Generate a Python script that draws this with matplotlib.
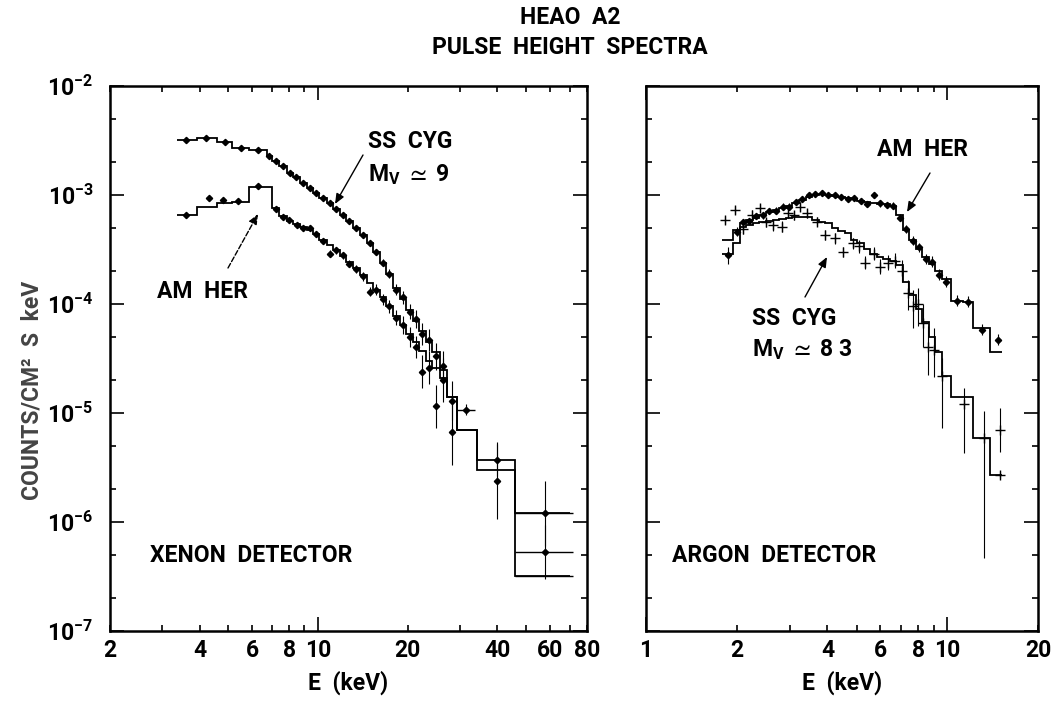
import numpy as np
import matplotlib
matplotlib.use('Agg')
import matplotlib.pyplot as plt
from matplotlib.ticker import LogLocator, FuncFormatter, NullFormatter, LogFormatterMathtext, FixedLocator

plt.rcParams['font.family'] = ['Roboto', 'DejaVu Sans']
plt.rcParams['font.weight'] = 'bold'
plt.rcParams['axes.labelweight'] = 'bold'
plt.rcParams['mathtext.fontset'] = 'custom'
plt.rcParams['mathtext.rm'] = 'Roboto:bold'
plt.rcParams['mathtext.it'] = 'Roboto:bold'
plt.rcParams['mathtext.bf'] = 'Roboto:bold'
plt.rcParams['mathtext.fallback'] = 'stixsans'

# ---------------- DATA ----------------
# Xenon detector (left panel): common bin edges (keV)
xe_edges = [3.36, 3.92, 4.57, 5.13, 5.85, 6.73, 7.0, 7.4, 7.85, 8.25, 8.68, 9.15, 9.6,
            10.1, 10.7, 11.25, 11.8, 12.4, 13.1, 13.8, 14.6, 15.3, 16.1, 16.9, 17.8,
            18.8, 19.8, 20.9, 21.9, 23.0, 24.2, 25.6, 27.0, 29.2, 34.3, 45.8, 70.0]
xe_sscyg_model = [3.2e-3, 3.3e-3, 3.05e-3, 2.7e-3, 2.6e-3, 2.3e-3, 2.05e-3, 1.85e-3, 1.6e-3,
                  1.45e-3, 1.3e-3, 1.17e-3, 1.05e-3, 9.4e-4, 8.4e-4, 7.5e-4, 6.6e-4, 5.8e-4,
                  5.0e-4, 4.3e-4, 3.6e-4, 3.0e-4, 2.4e-4, 1.9e-4, 1.4e-4, 1.1e-4, 8.8e-5,
                  7.0e-5, 5.6e-5, 4.5e-5, 3.6e-5, 2.5e-5, 1.4e-5, 7.0e-6, 3.7e-6, 1.2e-6]
xe_amher_model = [6.6e-4, 7.8e-4, 8.5e-4, 8.7e-4, 1.19e-3, 1.18e-3, 7.6e-4, 6.4e-4, 5.8e-4,
                  5.4e-4, 5.1e-4, 4.8e-4, 4.4e-4, 3.9e-4, 3.5e-4, 3.1e-4, 2.75e-4, 2.45e-4,
                  2.15e-4, 1.85e-4, 1.55e-4, 1.35e-4, 1.15e-4, 9.5e-5, 7.8e-5, 6.4e-5, 5.3e-5,
                  4.5e-5, 3.7e-5, 3.0e-5, 2.6e-5, 2.1e-5, 1.4e-5, 7.0e-6, 3.0e-6, 3.2e-7]

xe_sscyg_pt_E = [3.6, 4.2, 4.85, 5.5, 6.3, 6.85, 7.2, 7.6, 8.05, 8.45, 8.9, 9.4, 9.85, 10.4,
                 11.0, 11.5, 12.1, 12.7, 13.4, 14.2, 14.9, 15.7, 16.5, 17.3, 18.3, 19.3,
                 20.4, 21.4, 22.4, 23.6, 24.9, 26.3, 28.1, 31.5, 40.0, 58.0]
xe_sscyg_pt_val = [3.2e-3, 3.3e-3, 3.05e-3, 2.7e-3, 2.6e-3, 2.3e-3, 2.05e-3, 1.85e-3, 1.6e-3,
                   1.45e-3, 1.3e-3, 1.17e-3, 1.05e-3, 9.4e-4, 8.4e-4, 7.5e-4, 6.6e-4, 5.8e-4,
                   5.0e-4, 4.3e-4, 3.6e-4, 3.0e-4, 2.4e-4, 1.9e-4, 1.35e-4, 1.15e-4, 8.5e-5,
                   7.3e-5, 5.3e-5, 4.7e-5, 3.3e-5, 2.7e-5, 1.3e-5, 1.07e-5, 3.7e-6, 1.2e-6]
xe_sscyg_pt_err = [0.01, 0.01, 0.01, 0.01, 0.01, 0.01, 0.01, 0.01, 0.01, 0.01, 0.015, 0.015,
                   0.015, 0.015, 0.02, 0.02, 0.02, 0.02, 0.02, 0.025, 0.025, 0.03, 0.03, 0.04,
                   0.05, 0.06, 0.07, 0.08, 0.1, 0.1, 0.12, 0.14, 0.18, 0.05, 0.15, 0.3]

xe_amher_pt_E = [3.6, 4.3, 4.8, 5.4, 6.3, 7.2, 7.6, 8.0, 8.5, 8.9, 9.4, 9.85, 10.4, 11.0,
                 11.5, 12.1, 12.7, 13.4, 14.2, 14.9, 15.7, 16.5, 17.3, 18.3, 19.3, 20.4,
                 21.4, 22.4, 23.6, 24.9, 26.3, 28.1, 40.0, 58.0]
xe_amher_pt_val = [6.5e-4, 9.3e-4, 9.0e-4, 8.8e-4, 1.2e-3, 7.5e-4, 6.3e-4, 5.9e-4, 5.3e-4,
                   5.0e-4, 5.0e-4, 4.4e-4, 3.8e-4, 2.9e-4, 3.1e-4, 2.8e-4, 2.35e-4, 2.1e-4,
                   1.8e-4, 1.3e-4, 1.35e-4, 1.1e-4, 9.5e-5, 7.5e-5, 6.4e-5, 5.0e-5, 4.0e-5,
                   2.4e-5, 2.6e-5, 1.15e-5, 2.0e-5, 6.7e-6, 2.4e-6, 5.3e-7]
xe_amher_pt_err = [0.02, 0.02, 0.02, 0.02, 0.02, 0.02, 0.02, 0.02, 0.02, 0.025, 0.025, 0.025,
                   0.03, 0.03, 0.03, 0.03, 0.035, 0.035, 0.04, 0.04, 0.05, 0.05, 0.06, 0.07,
                   0.08, 0.09, 0.1, 0.15, 0.15, 0.2, 0.2, 0.3, 0.35, 0.25]

# Argon detector (right panel)
ar_edges = [1.79, 1.95, 2.05, 2.15, 2.26, 2.38, 2.5, 2.63, 2.77, 2.91, 3.06, 3.22, 3.39,
            3.56, 3.74, 3.93, 4.13, 4.34, 4.56, 4.79, 5.03, 5.29, 5.56, 5.84, 6.14, 6.45,
            6.78, 7.12, 7.48, 7.86, 8.26, 8.68, 9.12, 9.58, 10.3, 11.3, 12.2, 13.9, 15.2]
ar_amher_model = [3.9e-4, 4.8e-4, 5.5e-4, 5.9e-4, 6.2e-4, 6.6e-4, 7.0e-4, 7.3e-4, 7.6e-4,
                  7.9e-4, 8.4e-4, 9.0e-4, 9.6e-4, 1.0e-3, 1.02e-3, 1.0e-3, 9.8e-4, 9.6e-4,
                  9.4e-4, 9.2e-4, 8.9e-4, 8.6e-4, 8.4e-4, 8.3e-4, 8.2e-4, 8.0e-4, 6.5e-4,
                  4.8e-4, 3.9e-4, 3.2e-4, 2.7e-4, 2.35e-4, 2.0e-4, 1.7e-4, 1.07e-4, 1.05e-4,
                  6.0e-5, 3.6e-5]
ar_sscyg_model = [2.9e-4, 3.6e-4, 5.1e-4, 5.3e-4, 5.5e-4, 5.6e-4, 5.8e-4, 5.9e-4, 6.0e-4,
                  6.1e-4, 6.3e-4, 6.3e-4, 6.3e-4, 5.9e-4, 5.7e-4, 5.5e-4, 5.0e-4, 4.7e-4,
                  4.5e-4, 3.9e-4, 3.6e-4, 3.2e-4, 2.9e-4, 2.7e-4, 2.6e-4, 2.5e-4, 2.3e-4,
                  1.6e-4, 1.2e-4, 9.0e-5, 6.8e-5, 5.0e-5, 3.6e-5, 2.2e-5, 1.4e-5, 1.4e-5,
                  5.9e-6, 2.7e-6]

ar_amher_pt_E = [1.87, 2.0, 2.1, 2.2, 2.32, 2.44, 2.56, 2.7, 2.84, 2.98, 3.14, 3.3, 3.47,
                 3.65, 3.83, 4.03, 4.23, 4.45, 4.67, 4.91, 5.16, 5.42, 5.7, 5.99, 6.3, 6.61,
                 6.95, 7.3, 7.67, 8.06, 8.47, 8.9, 9.35, 9.9, 10.8, 11.7, 13.0, 14.7]
ar_amher_pt_val = [2.8e-4, 4.6e-4, 5.6e-4, 5.8e-4, 6.4e-4, 6.5e-4, 7.1e-4, 7.2e-4, 7.8e-4,
                   7.8e-4, 8.6e-4, 9.1e-4, 1.0e-3, 1.02e-3, 1.04e-3, 1.0e-3, 9.9e-4, 9.5e-4,
                   9.2e-4, 9.3e-4, 8.8e-4, 8.3e-4, 1.0e-3, 8.4e-4, 8.1e-4, 8.0e-4, 6.2e-4,
                   4.9e-4, 3.8e-4, 3.3e-4, 2.6e-4, 2.45e-4, 1.85e-4, 1.6e-4, 1.07e-4, 1.05e-4,
                   5.8e-5, 4.7e-5]
ar_amher_pt_err = [0.08, 0.04, 0.03, 0.03, 0.03, 0.03, 0.03, 0.03, 0.03, 0.03, 0.025, 0.025,
                   0.025, 0.025, 0.025, 0.025, 0.025, 0.025, 0.025, 0.025, 0.03, 0.03, 0.03,
                   0.03, 0.03, 0.03, 0.035, 0.035, 0.04, 0.04, 0.045, 0.05, 0.05, 0.05, 0.05,
                   0.05, 0.05, 0.05]

ar_sscyg_pt_E = [1.83, 1.97, 2.1, 2.25, 2.39, 2.5, 2.64, 2.83, 2.95, 3.1, 3.25, 3.43, 3.7,
                 3.93, 4.24, 4.51, 4.88, 5.1, 5.34, 5.7, 6.0, 6.36, 6.7, 7.05, 7.4, 7.7, 8.0,
                 8.3, 8.6, 9.0, 9.6, 11.4, 13.2, 15.0, 15.0]
ar_sscyg_pt_val = [5.9e-4, 7.3e-4, 4.9e-4, 6.6e-4, 7.6e-4, 5.6e-4, 5.3e-4, 5.1e-4, 6.8e-4,
                   6.5e-4, 7.8e-4, 6.8e-4, 5.7e-4, 4.3e-4, 4.0e-4, 3.0e-4, 3.6e-4, 3.4e-4,
                   2.4e-4, 2.9e-4, 2.2e-4, 2.4e-4, 2.5e-4, 2.0e-4, 1.25e-4, 9.5e-5, 1.0e-4,
                   6.7e-5, 4.0e-5, 3.8e-5, 2.2e-5, 1.2e-5, 5.9e-6, 7.0e-6, 2.7e-6]
ar_sscyg_pt_dlo = [0.04, 0.04, 0.05, 0.04, 0.04, 0.04, 0.05, 0.05, 0.04, 0.04, 0.04, 0.04,
                   0.04, 0.05, 0.05, 0.05, 0.05, 0.06, 0.06, 0.06, 0.07, 0.07, 0.07, 0.1,
                   0.15, 0.2, 0.2, 0.22, 0.25, 0.25, 0.48, 0.45, 1.1, 0.2, 0.03]
ar_sscyg_pt_dhi = [0.04, 0.04, 0.05, 0.04, 0.04, 0.04, 0.05, 0.05, 0.04, 0.04, 0.04, 0.04,
                   0.04, 0.05, 0.05, 0.05, 0.05, 0.06, 0.06, 0.06, 0.07, 0.07, 0.07, 0.1,
                   0.12, 0.15, 0.15, 0.17, 0.2, 0.2, 0.16, 0.15, 0.25, 0.2, 0.03]

xe_tick_labels = [2, 4, 6, 8, 10, 20, 40, 60, 80]
ar_tick_labels = [1, 2, 4, 6, 8, 10, 20]

# ---------------- FIGURE ----------------
W, H = 1056, 703
fig = plt.figure(figsize=(W / 100, H / 100), dpi=100)
def fx(px): return px / W
def fy(py): return 1 - py / H

axL = fig.add_axes([fx(110), fy(631), (587 - 110) / W, (631 - 86) / H])
axR = fig.add_axes([fx(646), fy(631), (1038 - 646) / W, (631 - 86) / H])

def label_fmt(labels):
    def f(x, pos):
        for l in labels:
            if abs(x - l) < 1e-6 * l:
                return '%g' % l
        return ''
    return FuncFormatter(f)

def plot_points(ax, E, val, dlo, dhi, marker, ms):
    E = np.array(E); v = np.array(val)
    lo = v - v * 10 ** (-np.array(dlo))
    hi = v * 10 ** np.array(dhi) - v
    ax.errorbar(E, v, yerr=[lo, hi], fmt=marker, ms=ms, color='k', mfc='k', mec='k',
                mew=1.0, elinewidth=0.8, capsize=0, zorder=3)

fs = 16.5
for ax, xlim, majors, labels in [(axL, (2, 80), [10], xe_tick_labels),
                                 (axR, (1, 20), [1, 10], ar_tick_labels)]:
    ax.set_xscale('log'); ax.set_yscale('log')
    ax.set_xlim(*xlim); ax.set_ylim(1e-7, 1e-2)
    ax.xaxis.set_major_locator(FixedLocator(majors))
    ax.xaxis.set_minor_locator(LogLocator(base=10, subs=np.arange(2, 10), numticks=20))
    ax.xaxis.set_major_formatter(label_fmt(labels))
    ax.xaxis.set_minor_formatter(label_fmt(labels))
    ax.yaxis.set_major_locator(LogLocator(base=10, numticks=10))
    ax.yaxis.set_minor_locator(LogLocator(base=10, subs=(2, 5), numticks=20))
    ax.yaxis.set_minor_formatter(NullFormatter())
    ax.tick_params(which='both', direction='in', top=True, right=True, labelsize=fs,
                   width=1.2, pad=6)
    ax.tick_params(which='major', length=10)
    ax.tick_params(which='minor', length=4)
    for s in ax.spines.values():
        s.set_linewidth(1.8)
    ax.set_xlabel('E  (keV)', fontsize=fs, fontweight='bold', labelpad=6)

axL.yaxis.set_major_formatter(LogFormatterMathtext())
axL.tick_params(axis='y', which='major', pad=12)
axR.yaxis.set_major_formatter(NullFormatter())

# Left panel: xenon
axL.stairs(xe_sscyg_model, xe_edges, baseline=None, color='k', lw=1.3, zorder=2)
axL.stairs(xe_amher_model, xe_edges, baseline=None, color='k', lw=1.3, zorder=2)
plot_points(axL, xe_sscyg_pt_E, xe_sscyg_pt_val, xe_sscyg_pt_err, xe_sscyg_pt_err, 'D', 3.2)
plot_points(axL, xe_amher_pt_E, xe_amher_pt_val, xe_amher_pt_err, xe_amher_pt_err, 'D', 3.2)
# horizontal bars of the high-energy points
axL.hlines([xe_sscyg_pt_val[-3], xe_amher_pt_val[-1]], [xe_edges[-4], xe_edges[-2]],
           [33.6, 72.0], color='k', lw=1.0)
axL.hlines([xe_sscyg_model[-1], xe_amher_model[-1]], [xe_edges[-2]] * 2, [72.0, 72.0],
           color='k', lw=1.0)

# Right panel: argon
axR.stairs(ar_amher_model, ar_edges, baseline=None, color='k', lw=1.3, zorder=2)
axR.stairs(ar_sscyg_model, ar_edges, baseline=None, color='k', lw=1.3, zorder=2)
plot_points(axR, ar_amher_pt_E, ar_amher_pt_val, ar_amher_pt_err, ar_amher_pt_err, 'D', 3.2)
plot_points(axR, ar_sscyg_pt_E, ar_sscyg_pt_val, ar_sscyg_pt_dlo, ar_sscyg_pt_dhi, '+', 7)

# ---------------- TEXT ----------------
fig.text(fx(570), fy(17), 'HEAO  A2', ha='center', va='center', fontsize=fs)
fig.text(fx(570), fy(47), 'PULSE  HEIGHT  SPECTRA', ha='center', va='center', fontsize=fs)
fig.text(fx(32), fy(390), 'COUNTS/CM²  S  keV', rotation=90, ha='center', va='center',
         fontsize=fs, color='#444444')

fig.text(fx(368), fy(142), 'SS  CYG', ha='left', va='center', fontsize=fs)
fig.text(fx(368), fy(175), r'M$_\mathregular{V}$ $\simeq$ 9', ha='left', va='center', fontsize=fs)
fig.text(fx(157), fy(292), 'AM  HER', ha='left', va='center', fontsize=fs)
fig.text(fx(150), fy(556), 'XENON  DETECTOR', ha='left', va='center', fontsize=fs)

fig.text(fx(877), fy(150), 'AM  HER', ha='left', va='center', fontsize=fs)
fig.text(fx(752), fy(319), 'SS  CYG', ha='left', va='center', fontsize=fs)
fig.text(fx(752), fy(350), r'M$_\mathregular{V}$ $\simeq$ 8 3', ha='left', va='center', fontsize=fs)
fig.text(fx(672), fy(556), 'ARGON  DETECTOR', ha='left', va='center', fontsize=fs)

arrows = [((363, 155), (335, 204), '-'),
          ((228, 268), (258, 214), '--'),
          ((930, 173), (907, 212), '-'),
          ((805, 297), (827, 257), '-')]
for (x0, y0), (x1, y1), ls in arrows:
    fig.add_artist(matplotlib.patches.FancyArrowPatch(
        (fx(x0), fy(y0)), (fx(x1), fy(y1)), transform=fig.transFigure,
        arrowstyle='-|>,head_length=6,head_width=2.5', color='k', lw=1.0,
        linestyle=ls, shrinkA=0, shrinkB=0))

fig.savefig('out.png', dpi=100)
